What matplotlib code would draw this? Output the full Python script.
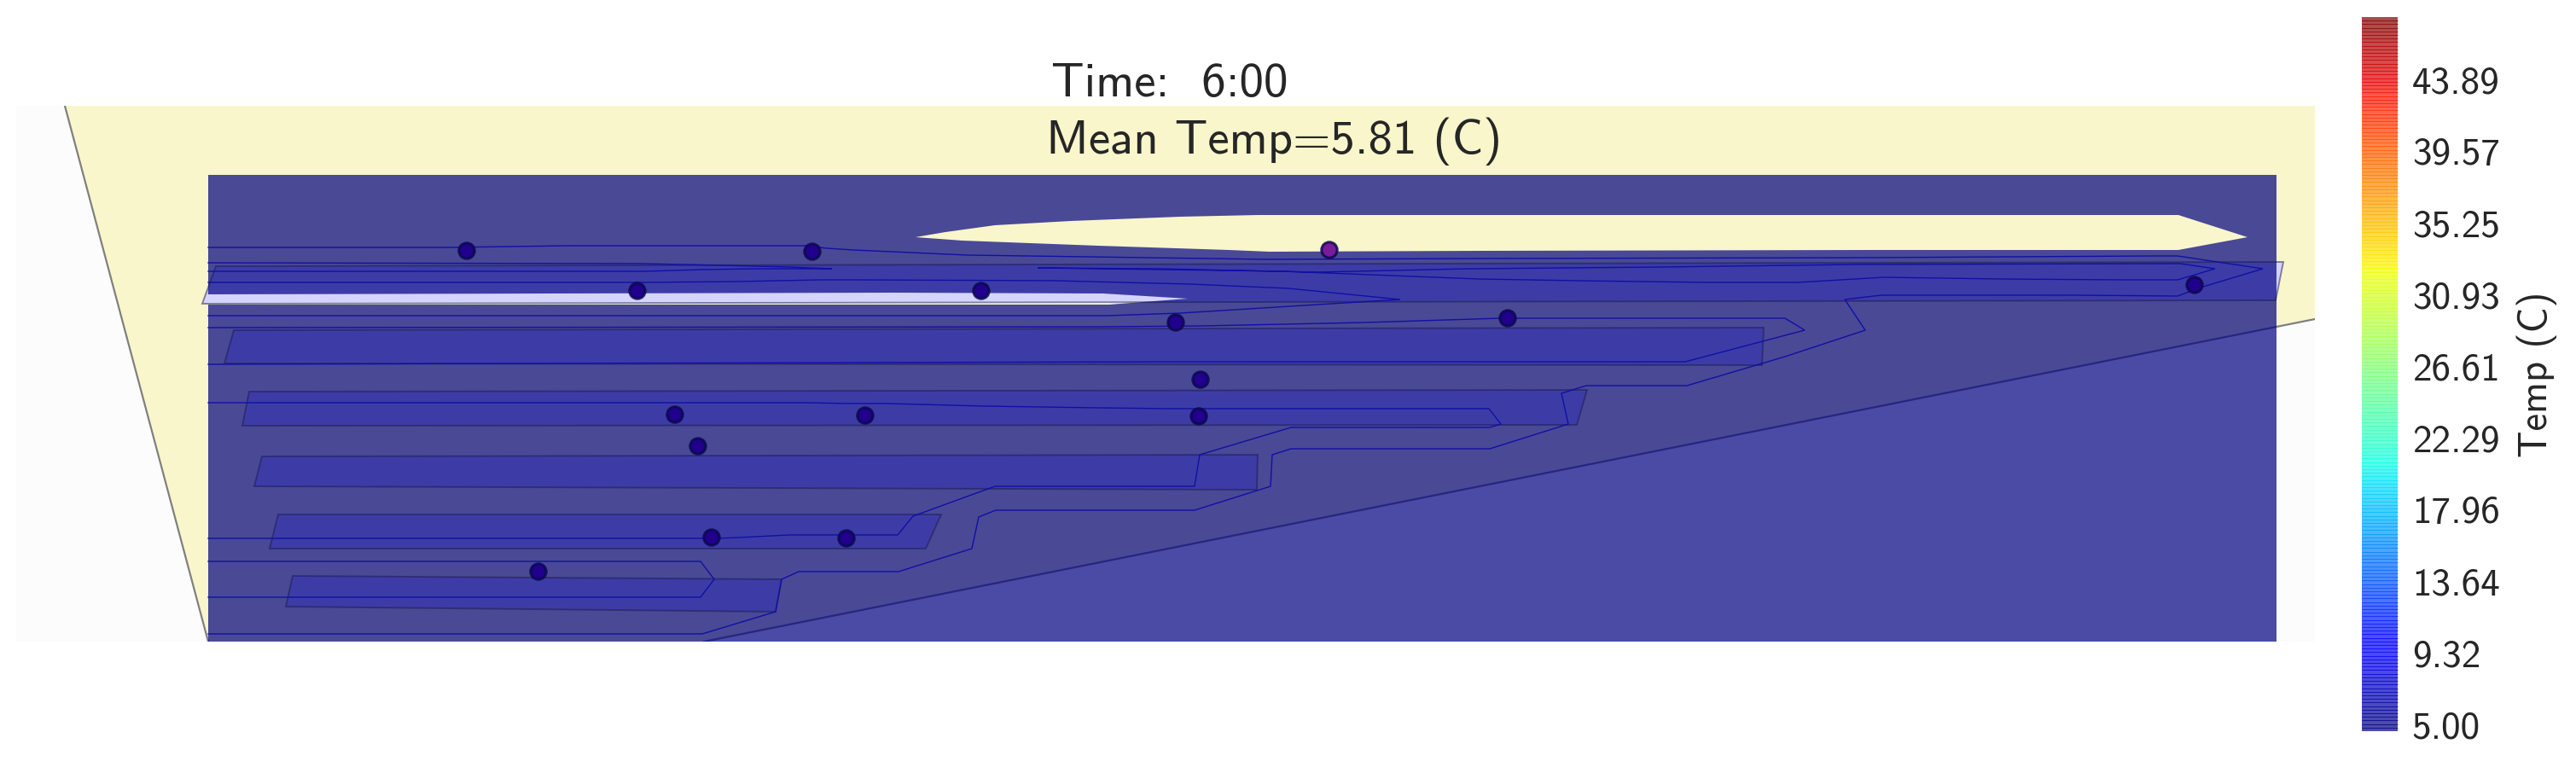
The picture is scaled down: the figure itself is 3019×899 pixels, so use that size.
import numpy as np
import matplotlib
matplotlib.use("Agg")
import matplotlib.pyplot as plt
from matplotlib.path import Path
from matplotlib.patches import PathPatch, Polygon
from matplotlib.colors import BoundaryNorm
from matplotlib.cm import ScalarMappable
from matplotlib.transforms import ScaledTranslation

W, H = 3019, 899
title_time = "Time:  6:00"
title_mean = "Mean Temp=5.81 (C)"
cbar_label = "Temp (C)"
cbar_ticks = [5.00, 9.32, 13.64, 17.96, 22.29, 26.61, 30.93, 35.25, 39.57, 43.89]
cbar_vmax = 48.05

floor_outline = [(76,124),(2713,124),(2713,374),(825,752),(244,752)]
floor_edge_left = [(76,124),(244,752)]
floor_edge_slant = [(825,752),(2713,374)]
field_outer = [(244,205),(2668,205),(2668,752),(244,752),(244,357),(1300,357),(1392,350),
               (1293,344),(1048,343),(244,345)]
field_hole = [(1073,278),(1108,272),(1166,264),(1255,259),(1383,254),(1475,252),(2553,252),(2634,278),(2553,293),
              (2192,293),(1733,294),(1488,295),(1440,293),(1287,288),(1128,282)]
white_slot = [(241,345),(1048,343),(1293,344),(1392,350),(1300,356),(237,356)]
white_tip = [(2668,307),(2676,307),(2667,352),(2667,307)]

rooms = [
    [(253,312),(2676,307),(2667,352),(237,356)],
    [(274,387),(2067,384),(2065,428),(263,426)],
    [(292,459),(1860,457),(1848,498),(284,499)],
    [(307,535),(1474,533),(1473,574),(298,570)],
    [(326,603),(1103,603),(1085,643),(316,643)],
    [(343,675),(916,679),(909,717),(335,711)],
]

contour_a = [(244,290),(523,290),(668,288),(944,288),(969,291),(1000,293),(1134,299),(1485,304),
             (1733,303),(2185,302),(2523,300),(2552,300),(2652,315),(2579,337),(2552,347),
             (2435,346),(2205,346),(2162,351),(2186,387),(2092,418),(1977,452),(1859,452),
             (1830,461),(1838,497),(1746,526),(1513,526),(1491,533),(1489,570),(1400,598),
             (1167,598),(1147,606),(1139,643),(1053,670),(936,670),(916,679),(909,717),
             (823,743),(244,743)]
contour_b = [(244,308),(752,309),(802,310),(845,311),(925,313),(975,315),(944,315),(886,315),
             (823,316),(756,318),(244,318)]
contour_c = [(244,331),(756,331),(864,330),(963,328),(1000,328),(1236,329),(1395,333),(1510,338),
             (1641,351),(1383,367),(1297,370),(244,370)]
contour_d = [(1217,314),(1360,315),(1542,319),(1721,315),(1945,313),(2178,310),(2555,309),
             (2596,315),(2552,328),(2487,328),(2344,327),(2208,325),(2107,331),(2000,331),
             (1925,330),(1848,329),(1733,327),(1504,318),(1217,314)]
contour_e = [(244,384),(1290,383),(1408,382),(1599,378),(1759,373),(2092,373),(2115,387),
             (1975,424),(1354,424),(1000,425),(244,427)]
contour_f = [(244,472),(947,472),(995,473),(1041,473),(1153,476),(1287,478),(1370,479),(1745,479),
             (1759,497),(1746,501),(1513,501),(1406,533),(1400,570),(1166,570),(1070,605),
             (1052,627),(925,627),(867,630),(842,631),(244,631)]
contour_g = [(244,658),(821,658),(837,679),(821,700),(244,700)]
contours = [contour_a, contour_b, contour_c, contour_d, contour_e, contour_f, contour_g]

sensor_x = [547,952,747,1150,1558,1378,1767,2572,791,818,834,992,631,1014,1405,1407]
sensor_y = [294,295,341,341,293,378,373,334,486,523,630,631,670,487,488,445]
sensor_color = ["#20008c"]*16
sensor_color[4] = "#7a1a9c"

fig = plt.figure(figsize=(W/100, H/100), dpi=100, facecolor="white")
ax = fig.add_axes([19/W, 1-752/H, (2713-19)/W, (752-124)/H])
ax.set_xlim(19, 2713)
ax.set_ylim(752, 124)
ax.axis("off")

ax.add_patch(Polygon([(19,124),(2713,124),(2713,752),(19,752)], fc="#fcfcfc", ec="none", zorder=0))
ax.add_patch(Polygon(floor_outline, fc="#f9f6cc", ec="none", zorder=1))
for edge in (floor_edge_left, floor_edge_slant):
    xs, ys = zip(*edge)
    ax.plot(xs, ys, color="#808080", lw=1.6, zorder=1.5)
ax.add_patch(Polygon(white_slot, fc="white", ec="none", zorder=2))
ax.add_patch(Polygon(white_tip, fc="white", ec="none", zorder=2))

verts = field_outer + [field_outer[0]] + field_hole[::-1] + [field_hole[-1]]
codes = ([Path.MOVETO] + [Path.LINETO]*(len(field_outer)-1) + [Path.CLOSEPOLY]
         + [Path.MOVETO] + [Path.LINETO]*(len(field_hole)-1) + [Path.CLOSEPOLY])
ax.add_patch(PathPatch(Path(verts, codes), fc=(0,0,0.5,0.7), ec="none", lw=0, zorder=3))

for r in rooms:
    ax.add_patch(Polygon(r, fc=(0,0,1,0.17), ec=(0.1,0.1,0.3,0.5), lw=1.4, zorder=4))
for c in contours:
    xs, ys = zip(*c)
    ax.plot(xs, ys, color="#1010a4", lw=1.0, zorder=5, solid_joinstyle="miter")

ax.scatter(sensor_x, sensor_y, s=175, c=sensor_color, edgecolors=(0.04,0.04,0.3,0.85), linewidths=2.2, zorder=6)

ax.text(1232, 113, title_time, family="cmss10", fontsize=41, color="#262626", ha="left", va="baseline", zorder=7, clip_on=False)
ax.text(1226, 180, title_mean, family="cmss10", fontsize=41, color="#262626", ha="left", va="baseline", zorder=7, clip_on=False)

cax = fig.add_axes([2768/W, 1-857/H, 42/W, (857-20)/H])
levels = np.linspace(5, cbar_vmax, 200)
norm = BoundaryNorm(levels, 256)
sm = ScalarMappable(norm=norm, cmap="jet")
cb = fig.colorbar(sm, cax=cax, alpha=0.7, drawedges=True, ticks=cbar_ticks, spacing="proportional")
n_div = len(cb.dividers.get_segments())
div_vals = np.linspace(0, 1, n_div + 2)[1:-1]
div_rgba = matplotlib.colormaps["jet"](div_vals)
div_rgba[:, 3] = 0.7
cb.dividers.set_color(div_rgba)
cb.dividers.set_linewidth(0.8)
cb.outline.set_visible(False)
cb.ax.minorticks_off()
cb.ax.tick_params(length=0, pad=12, labelsize=32.5, labelcolor="#262626")
cb.ax.set_yticklabels([f"{t:.2f}" for t in cbar_ticks], family="cmss10")
shift = ScaledTranslation(0, 5.5/72, fig.dpi_scale_trans)
for lab in cb.ax.get_yticklabels():
    lab.set_transform(lab.get_transform() + shift)
cb.set_label(cbar_label, family="cmss10", fontsize=33.5, color="#262626", labelpad=14)

fig.savefig("out.png", dpi=100)
